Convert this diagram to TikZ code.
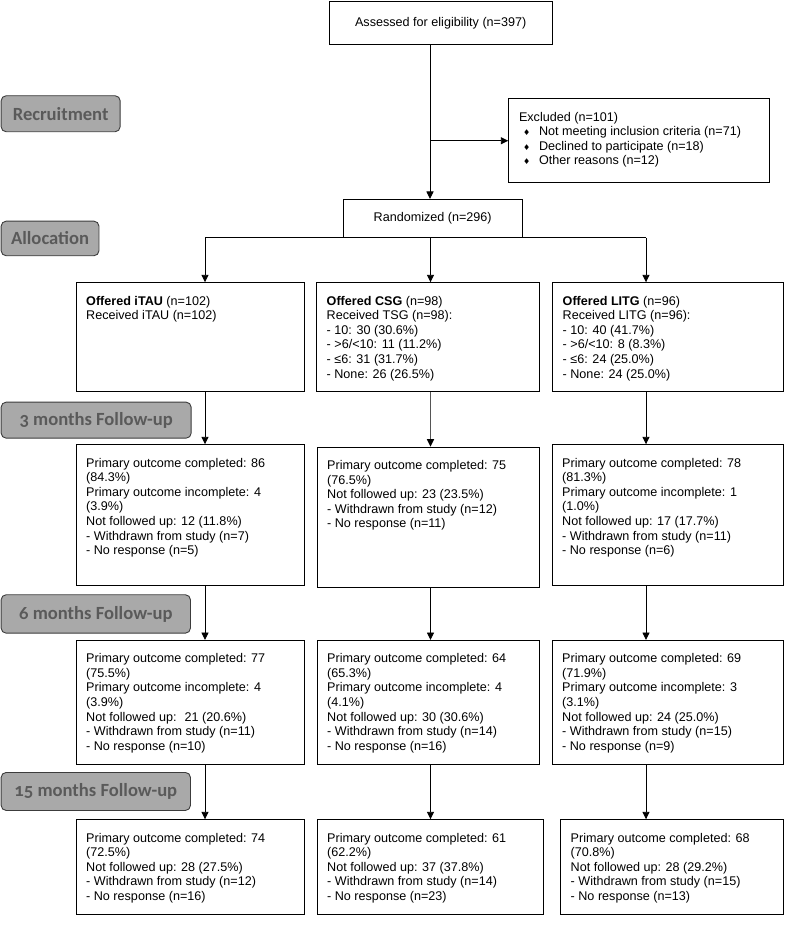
\documentclass[tikz,border=0pt]{standalone}
\usepackage{fontspec}
\setmainfont{Liberation Sans}
\newfontfamily\lblfont[Numbers=OldStyle]{Carlito}
\newfontfamily\symfont{DejaVu Sans}
\usetikzlibrary{arrows.meta,calc}
\definecolor{lblfill}{RGB}{169,169,169}
\definecolor{lbltext}{RGB}{90,90,90}
\definecolor{lbldraw}{RGB}{60,60,60}
\definecolor{arrgray}{RGB}{85,85,85}
\newcommand\dia{\makebox[20pt][l]{\hspace{4pt}{\symfont\fontsize{8}{8}\selectfont ♦}}}
\newcommand\cbox[6]{%
  \node[box, minimum width=#4pt, minimum height=#5pt] (#1) at (#2,#3) {};
  \node[txt] (#1t) at (#2+10.5,#3+12.3) {\strut #6};
}
\tikzset{
  box/.style={draw=black, line width=0.9pt, inner sep=0pt, anchor=north west},
  txt/.style={inner sep=0pt, anchor=north west, align=left, font=\fontsize{12.6}{14.6}\selectfont},
  ctxt/.style={draw=black, line width=0.9pt, inner sep=0pt, anchor=north west, font=\fontsize{12.6}{14.6}\selectfont},
  stage/.style={draw=lbldraw, fill=lblfill, rounded corners=5pt, line width=0.9pt, inner sep=0pt, anchor=north west, text=lbltext, font=\lblfont\bfseries\fontsize{18.6}{20}\selectfont},
  arr/.style={draw=black, line width=0.9pt, -{Triangle[width=7pt,length=7.5pt,color=black]}},
  ln/.style={draw=black, line width=0.9pt},
}
\begin{document}
\begin{tikzpicture}[x=1pt,y=-1pt]
\useasboundingbox (0,0) rectangle (784,925);
% stage labels
\node[stage, minimum width=119pt, minimum height=36pt] (sRec) at (0.7,95.3) {Recruitment};
\node[stage, minimum width=97.8pt, minimum height=34.6pt] (sAll) at (0.7,220.7) {Allocation};
\node[stage, minimum width=190pt, minimum height=36pt] (s3) at (0.7,401.7) {3 months Follow-up};
\node[stage, minimum width=189.3pt, minimum height=38.4pt] (s6) at (0.7,594.3) {6 months Follow-up};
\node[stage, minimum width=189.3pt, minimum height=38pt] (s15) at (0.7,772) {15 months Follow-up};
% top part
\node[ctxt, minimum width=223.5pt, minimum height=43.5pt] (assess) at (328.5,0.7) {Assessed for eligibility (n=397)};
\node[ctxt, minimum width=178.5pt, minimum height=37.7pt] (rand) at (343,199) {Randomized (n=296)};
\cbox{excl}{508.3}{98.3}{260.7}{84}{Excluded (n=101)\\\dia Not meeting inclusion criteria (n=71)\\\dia Declined to participate (n=18)\\\dia Other reasons (n=12)}
% column x positions
\coordinate (xM) at (430,0);
\coordinate (xA) at (205,0);
\coordinate (xB) at (430.5,0);
\coordinate (xC) at (646,0);
% row 1
\cbox{o1}{75.5}{282.3}{228.1}{109}{\textbf{Offered iTAU} (n=102)\\Received iTAU (n=102)}
\cbox{o2}{316}{282.3}{223}{109}{\textbf{Offered CSG} (n=98)\\Received TSG (n=98):\\- 10: 30 (30.6\%)\\- >6/<10: 11 (11.2\%)\\- ≤6: 31 (31.7\%)\\- None: 26 (26.5\%)}
\cbox{o3}{552}{282.3}{230.7}{109}{\textbf{Offered LITG} (n=96)\\Received LITG (n=96):\\- 10: 40 (41.7\%)\\- >6/<10: 8 (8.3\%)\\- ≤6: 24 (25.0\%)\\- None: 24 (25.0\%)}
% row 2
\cbox{f1}{75.5}{444.3}{228}{141}{Primary outcome completed: 86\\(84.3\%)\\Primary outcome incomplete: 4\\(3.9\%)\\Not followed up: 12 (11.8\%)\\- Withdrawn from study (n=7)\\- No response (n=5)}
\cbox{f2}{316.5}{446.7}{222.5}{140.6}{Primary outcome completed: 75\\(76.5\%)\\Not followed up: 23 (23.5\%)\\- Withdrawn from study (n=12)\\- No response (n=11)}
\cbox{f3}{551.5}{444.3}{231.5}{141}{Primary outcome completed: 78\\(81.3\%)\\Primary outcome incomplete: 1\\(1.0\%)\\Not followed up: 17 (17.7\%)\\- Withdrawn from study (n=11)\\- No response (n=6)}
% row 3
\cbox{m1}{75.5}{640}{228}{124.3}{Primary outcome completed: 77\\(75.5\%)\\Primary outcome incomplete: 4\\(3.9\%)\\Not followed up: \ 21 (20.6\%)\\- Withdrawn from study (n=11)\\- No response (n=10)}
\cbox{m2}{316.5}{640}{222.5}{124.3}{Primary outcome completed: 64\\(65.3\%)\\Primary outcome incomplete: 4\\(4.1\%)\\Not followed up: 30 (30.6\%)\\- Withdrawn from study (n=14)\\- No response (n=16)}
\cbox{m3}{551.5}{640}{231.5}{124.3}{Primary outcome completed: 69\\(71.9\%)\\Primary outcome incomplete: 3\\(3.1\%)\\Not followed up: 24 (25.0\%)\\- Withdrawn from study (n=15)\\- No response (n=9)}
% row 4
\cbox{q1}{75.5}{819.3}{228}{95}{Primary outcome completed: 74\\(72.5\%)\\Not followed up: 28 (27.5\%)\\- Withdrawn from study (n=12)\\- No response (n=16)}
\cbox{q2}{316.5}{819.3}{226}{95}{Primary outcome completed: 61\\(62.2\%)\\Not followed up: 37 (37.8\%)\\- Withdrawn from study (n=14)\\- No response (n=23)}
\cbox{q3}{560}{819.3}{223}{95}{Primary outcome completed: 68\\(70.8\%)\\Not followed up: 28 (29.2\%)\\- Withdrawn from study (n=15)\\- No response (n=13)}
% connectors
\draw[arr] (assess.south -| xM) -- (rand.north -| xM);
\draw[arr] (excl.west -| xM) -- (excl.west);
\draw[ln] (rand.south -| xA) -- (rand.south -| xC);
\draw[arr] (rand.south -| xA) -- (o1.north -| xA);
\draw[arr] (rand.south -| xB) -- (o2.north -| xB);
\draw[arr] (rand.south -| xC) -- (o3.north -| xC);
\draw[arr] (o1.south -| xA) -- (f1.north -| xA);
\draw[arr, draw=arrgray, line width=1.3pt] (o2.south -| xB) -- (f2.north -| xB);
\draw[arr] (o3.south -| xC) -- (f3.north -| xC);
\draw[arr] (f1.south -| xA) -- (m1.north -| xA);
\draw[arr] (f2.south -| xB) -- (m2.north -| xB);
\draw[arr] (f3.south -| xC) -- (m3.north -| xC);
\draw[arr] (m1.south -| xA) -- (q1.north -| xA);
\draw[arr] (m2.south -| xB) -- (q2.north -| xB);
\draw[arr] (m3.south -| xC) -- (q3.north -| xC);
\end{tikzpicture}
\end{document}
